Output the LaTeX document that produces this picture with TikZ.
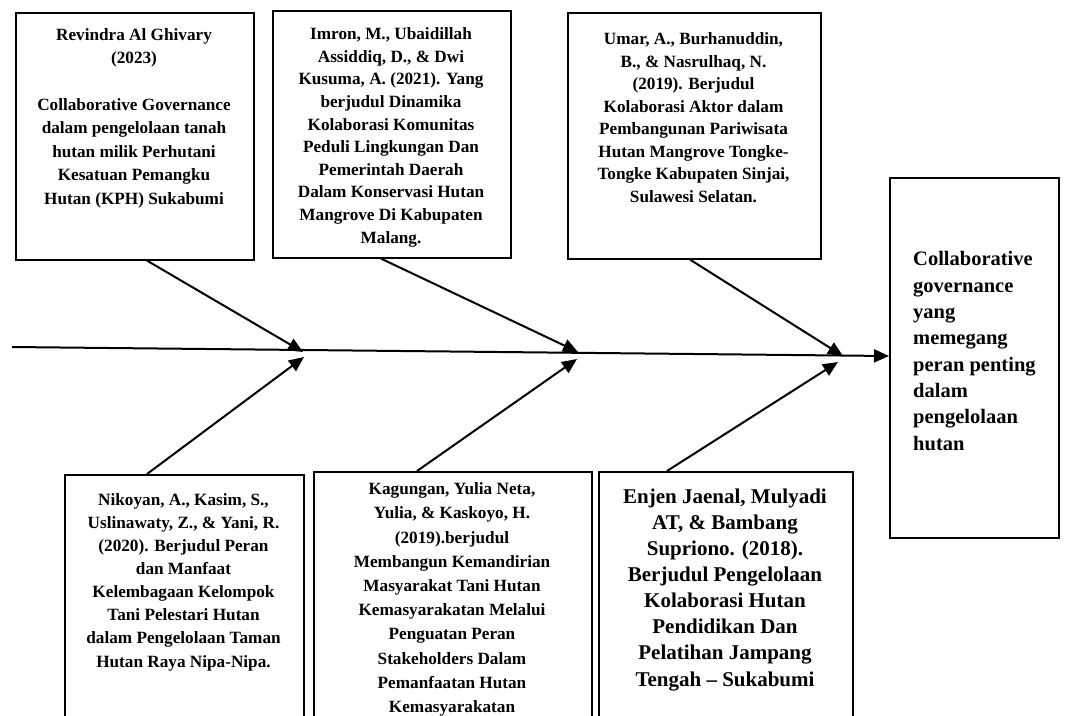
\documentclass[tikz,border=0pt]{standalone}
\usepackage{fontspec}
\setmainfont{Liberation Serif}
\usetikzlibrary{arrows.meta,calc}
\begin{document}
\begin{tikzpicture}[x=1pt,y=-1pt,
  box/.style={draw,line width=1.6pt,inner sep=0pt,anchor=north west},
  txt/.style={align=center,font=\bfseries\fontsize{17.2}{23}\selectfont,inner sep=0pt,anchor=base},
  bigtxt/.style={align=center,font=\bfseries\fontsize{21}{26.1}\selectfont,inner sep=0pt,anchor=base},
  arr/.style={line width=2pt,-{Triangle[length=15pt,width=13pt]}}]
\useasboundingbox (0,0) rectangle (1067,715);
% boxes
\node[box,minimum width=238pt,minimum height=247pt] (T1) at (15,12) {};
\node[box,minimum width=238pt,minimum height=247pt] (T2) at (272,10) {};
\node[box,minimum width=253pt,minimum height=246pt] (T3) at (567,12) {};
\node[box,minimum width=239pt,minimum height=300pt] (B1) at (64,474) {};
\node[box,minimum width=278pt,minimum height=300pt] (B2) at (313,471) {};
\node[box,minimum width=254pt,minimum height=300pt] (B3) at (598,471) {};
\node[box,minimum width=169pt,minimum height=360pt] (R) at (889,177) {};
% texts (anchored at the baseline of their last line)
\node[txt,font=\bfseries\fontsize{17.2}{23.4}\selectfont] (t1) at (134,204) {Revindra Al Ghivary\\(2023)\\[23.4pt]Collaborative Governance\\dalam pengelolaan tanah\\hutan milik Perhutani\\Kesatuan Pemangku\\Hutan (KPH) Sukabumi};
\node[txt,font=\bfseries\fontsize{17.2}{22.6}\selectfont] (t2) at (391,243) {Imron, M., Ubaidillah\\Assiddiq, D., \& Dwi\\Kusuma, A. (2021). Yang\\berjudul Dinamika\\Kolaborasi Komunitas\\Peduli Lingkungan Dan\\Pemerintah Daerah\\Dalam Konservasi Hutan\\Mangrove Di Kabupaten\\Malang.};
\node[txt,font=\bfseries\fontsize{17.2}{22.5}\selectfont] (t3) at (693.5,202) {Umar, A., Burhanuddin,\\B., \& Nasrulhaq, N.\\(2019). Berjudul\\Kolaborasi Aktor dalam\\Pembangunan Pariwisata\\Hutan Mangrove Tongke-\\Tongke Kabupaten Sinjai,\\Sulawesi Selatan.};
\node[txt,font=\bfseries\fontsize{17.2}{23.1}\selectfont] (b1t) at (183.5,667) {Nikoyan, A., Kasim, S.,\\Uslinawaty, Z., \& Yani, R.\\(2020). Berjudul Peran\\dan Manfaat\\Kelembagaan Kelompok\\Tani Pelestari Hutan\\dalam Pengelolaan Taman\\Hutan Raya Nipa-Nipa.};
\node[txt,font=\bfseries\fontsize{17.2}{24.2}\selectfont] (b2t) at (452,712.5) {Kagungan, Yulia Neta,\\Yulia, \& Kaskoyo, H.\\(2019).berjudul\\Membangun Kemandirian\\Masyarakat Tani Hutan\\Kemasyarakatan Melalui\\Penguatan Peran\\Stakeholders Dalam\\Pemanfaatan Hutan\\Kemasyarakatan};
\node[bigtxt] (b3t) at (725,686) {Enjen Jaenal, Mulyadi\\AT, \& Bambang\\Supriono. (2018).\\Berjudul Pengelolaan\\Kolaborasi Hutan\\Pendidikan Dan\\Pelatihan Jampang\\Tengah – Sukabumi};
\node[anchor=base west,align=left,inner sep=0pt,font=\bfseries\fontsize{20.5}{26.3}\selectfont] (rt) at (913,450) {Collaborative\\governance\\yang\\memegang\\peran penting\\dalam\\pengelolaan\\hutan};
% tips
\coordinate (s0) at (12,347);
\coordinate (a1) at (303,352);
\coordinate (a2) at (578,352);
\coordinate (a3) at (843,356);
\coordinate (b1) at (304,357);
\coordinate (b2) at (577,359);
\coordinate (b3) at (838,362);
% spine
\draw[arr] (s0) -- ($(R.north west)+(0,179)$);
% bones
\draw[arr] ($(T1.south west)+(132,0)$) -- (a1);
\draw[arr] ($(T2.south west)+(109,0)$) -- (a2);
\draw[arr] ($(T3.south west)+(123,0)$) -- (a3);
\draw[arr] ($(B1.north west)+(83,0)$) -- (b1);
\draw[arr] ($(B2.north west)+(104,0)$) -- (b2);
\draw[arr] ($(B3.north west)+(69,0)$) -- (b3);
\end{tikzpicture}
\end{document}
